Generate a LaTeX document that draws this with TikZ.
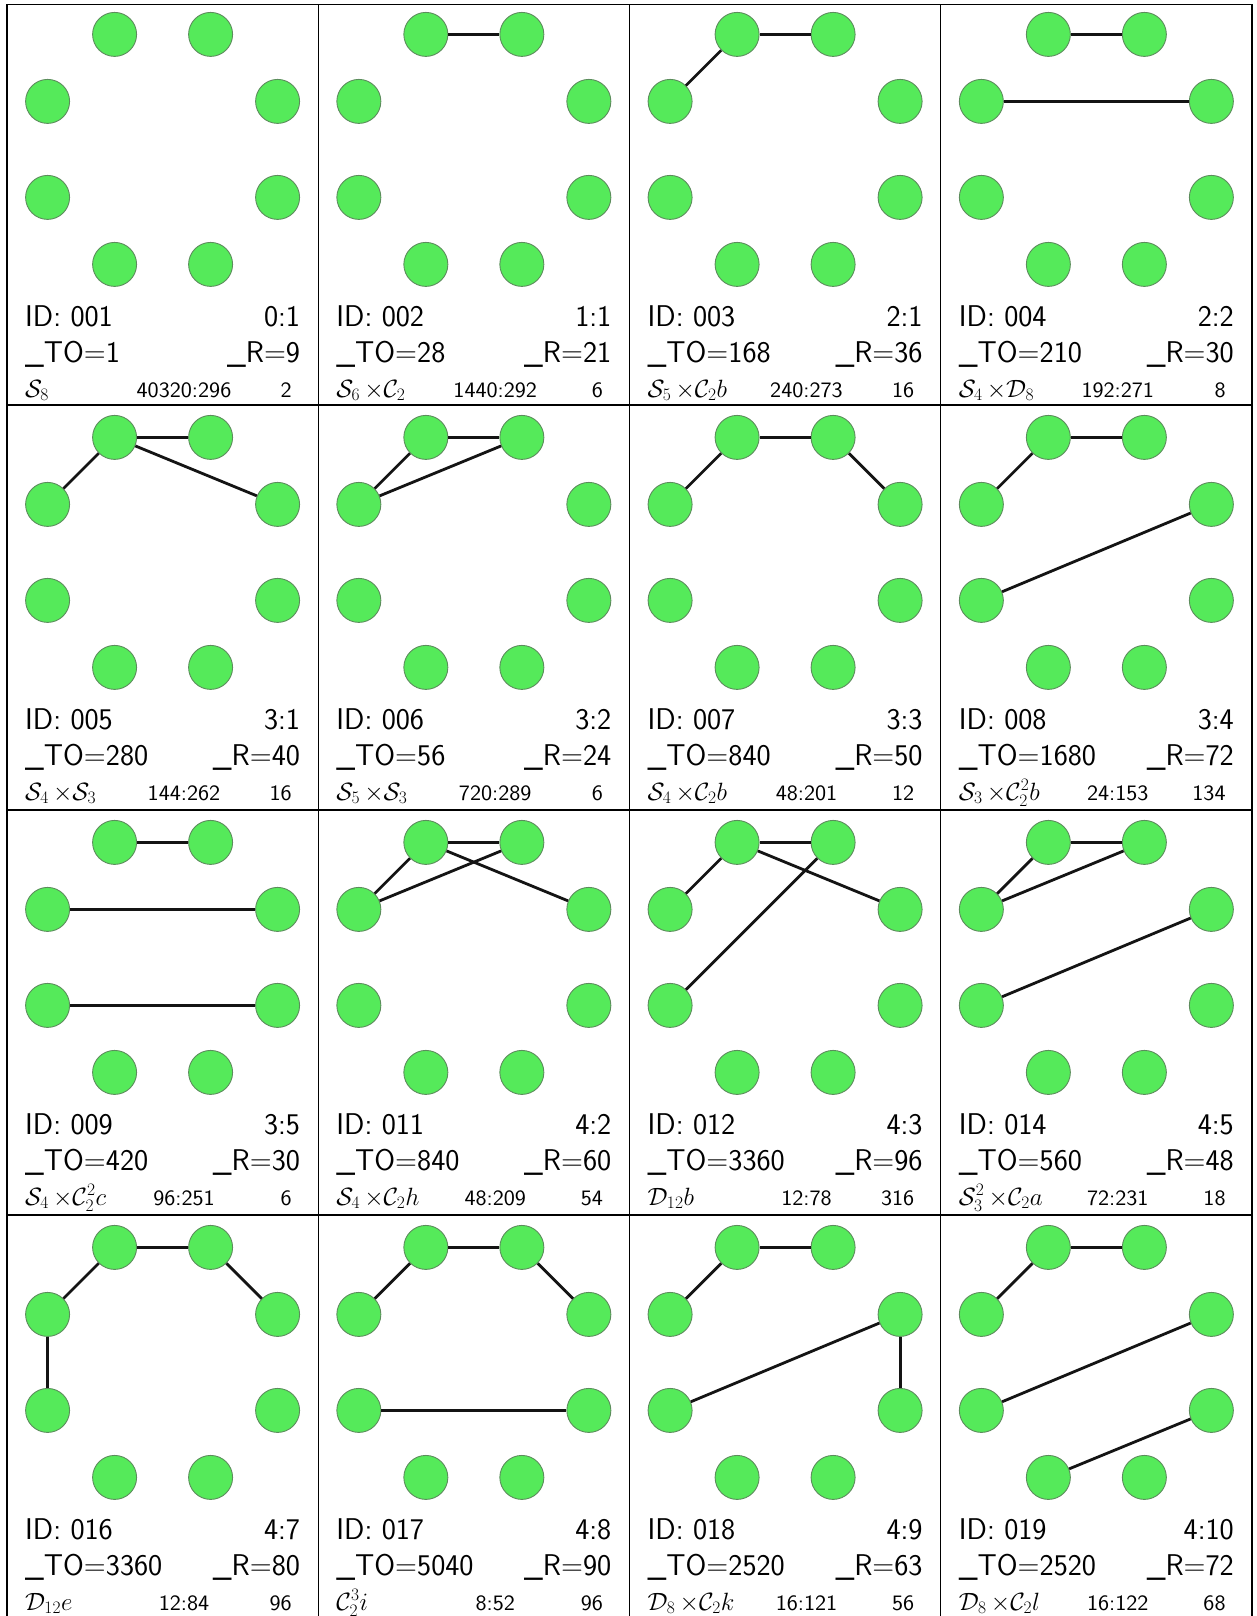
\documentclass[tikz,border=0pt]{standalone}
\usepackage{fix-cm}
\usepackage{amsmath}
\usepackage{fontspec}
\usepackage{xcolor}
\usepackage{tikz}
\usetikzlibrary{calc}
\definecolor{cVert}{HTML}{55EA5A}
\definecolor{cRim} {HTML}{5C8C5C}
\definecolor{cLink}{HTML}{141414}
\tikzset{
  vtx/.style={circle,draw=cRim,fill=cVert,line width=0.9pt,
              minimum size=44pt,inner sep=0pt},
  lnk/.style={line width=2.8pt,cLink},
  grd/.style={line width=1.4pt,black,line cap=rect},
  big/.style={inner sep=0pt,font=\sffamily\fontsize{30}{36}\selectfont},
  sml/.style={inner sep=0pt,font=\sffamily\fontsize{22}{26}\selectfont},
  grp/.style={inner sep=0pt,font=\fontsize{25}{28}\selectfont},
}
\newcommand{\widetx}[1]{\scalebox{1.07}[1]{#1}}
\newcommand{\tms}{\,{\times}}
% one cell: name, column, row
\newcommand{\gcell}[3]{%
  \coordinate (#1) at ({7+311.25*#2},{405*(#3+1)+2*(#3==0)});
  \foreach \p/\dx/\dy in {a/-48/-115,b/48/-115,c/115/-48,d/115/48,
                          e/48/115,f/-48/115,g/-115/48,h/-115/-48}
    \node[vtx] (#1\p) at ($(#1)+(155.6+\dx,-257.6+\dy)$) {};
}
% texts of a cell
\newcommand{\info}[8]{%
  \node[big,anchor=base west] (#1id) at ($(#1)+(18,-81)$) {ID: #2};
  \node[big,anchor=base east] (#1lv) at ($(#1)+(293.25,-81)$) {#3};
  \node[big,anchor=base west] (#1to) at ($(#1)+(18,-45)$) {\_TO=#4};
  \node[big,anchor=base east] (#1r)  at ($(#1)+(293.25,-45)$) {\_R=#5};
  \node[grp,anchor=base west] (#1gp) at ($(#1)+(18,-10)$) {#6};
  \node[sml,anchor=base] (#1or) at ($(#1)+(177,-10)$) {\widetx{#7}};
  \node[sml,anchor=base east] (#1n) at ($(#1)+(285,-10)$) {\widetx{#8}};
}

\begin{document}
\begin{tikzpicture}[x=1pt,y=-1pt]
  \useasboundingbox[fill=white] (0,0) rectangle (1256,1616);
  % table rules
  \foreach \gx in {7,318.25,629.5,940.75,1252}
    \draw[grd] (\gx,4.5) -- (\gx,1630);
  \foreach \gy in {4.5,405,810,1215}
    \draw[grd] (7,\gy) -- (1252,\gy);

  % row 1
  \gcell{t001}{0}{0}
  \info{t001}{001}{0:1}{1}{9}{$\mathcal{S}_8$}{40320:296}{2}
  \gcell{t002}{1}{0}
  \info{t002}{002}{1:1}{28}{21}{$\mathcal{S}_6\tms\mathcal{C}_2$}{1440:292}{6}
  \draw[lnk] (t002a)--(t002b);
  \gcell{t003}{2}{0}
  \info{t003}{003}{2:1}{168}{36}{$\mathcal{S}_5\tms\mathcal{C}_2b$}{240:273}{16}
  \draw[lnk] (t003a)--(t003b);
  \draw[lnk] (t003h)--(t003a);
  \gcell{t004}{3}{0}
  \info{t004}{004}{2:2}{210}{30}{$\mathcal{S}_4\tms\mathcal{D}_8$}{192:271}{8}
  \draw[lnk] (t004a)--(t004b);
  \draw[lnk] (t004h)--(t004c);

  % row 2
  \gcell{t005}{0}{1}
  \info{t005}{005}{3:1}{280}{40}{$\mathcal{S}_4\tms\mathcal{S}_3$}{144:262}{16}
  \draw[lnk] (t005a)--(t005b);
  \draw[lnk] (t005h)--(t005a);
  \draw[lnk] (t005a)--(t005c);
  \gcell{t006}{1}{1}
  \info{t006}{006}{3:2}{56}{24}{$\mathcal{S}_5\tms\mathcal{S}_3$}{720:289}{6}
  \draw[lnk] (t006a)--(t006b);
  \draw[lnk] (t006h)--(t006a);
  \draw[lnk] (t006h)--(t006b);
  \gcell{t007}{2}{1}
  \info{t007}{007}{3:3}{840}{50}{$\mathcal{S}_4\tms\mathcal{C}_2b$}{48:201}{12}
  \draw[lnk] (t007a)--(t007b);
  \draw[lnk] (t007h)--(t007a);
  \draw[lnk] (t007b)--(t007c);
  \gcell{t008}{3}{1}
  \info{t008}{008}{3:4}{1680}{72}{$\mathcal{S}_3\tms\mathcal{C}_2^2b$}{24:153}{134}
  \draw[lnk] (t008a)--(t008b);
  \draw[lnk] (t008h)--(t008a);
  \draw[lnk] (t008g)--(t008c);

  % row 3
  \gcell{t009}{0}{2}
  \info{t009}{009}{3:5}{420}{30}{$\mathcal{S}_4\tms\mathcal{C}_2^2c$}{96:251}{6}
  \draw[lnk] (t009a)--(t009b);
  \draw[lnk] (t009h)--(t009c);
  \draw[lnk] (t009g)--(t009d);
  \gcell{t011}{1}{2}
  \info{t011}{011}{4:2}{840}{60}{$\mathcal{S}_4\tms\mathcal{C}_2h$}{48:209}{54}
  \draw[lnk] (t011a)--(t011b);
  \draw[lnk] (t011h)--(t011a);
  \draw[lnk] (t011h)--(t011b);
  \draw[lnk] (t011a)--(t011c);
  \gcell{t012}{2}{2}
  \info{t012}{012}{4:3}{3360}{96}{$\mathcal{D}_{12}b$}{12:78}{316}
  \draw[lnk] (t012a)--(t012b);
  \draw[lnk] (t012h)--(t012a);
  \draw[lnk] (t012a)--(t012c);
  \draw[lnk] (t012g)--(t012b);
  \gcell{t014}{3}{2}
  \info{t014}{014}{4:5}{560}{48}{$\mathcal{S}_3^2\tms\mathcal{C}_2a$}{72:231}{18}
  \draw[lnk] (t014a)--(t014b);
  \draw[lnk] (t014h)--(t014a);
  \draw[lnk] (t014h)--(t014b);
  \draw[lnk] (t014g)--(t014c);

  % row 4
  \gcell{t016}{0}{3}
  \info{t016}{016}{4:7}{3360}{80}{$\mathcal{D}_{12}e$}{12:84}{96}
  \draw[lnk] (t016a)--(t016b);
  \draw[lnk] (t016h)--(t016a);
  \draw[lnk] (t016b)--(t016c);
  \draw[lnk] (t016h)--(t016g);
  \gcell{t017}{1}{3}
  \info{t017}{017}{4:8}{5040}{90}{$\mathcal{C}_2^3i$}{8:52}{96}
  \draw[lnk] (t017a)--(t017b);
  \draw[lnk] (t017h)--(t017a);
  \draw[lnk] (t017b)--(t017c);
  \draw[lnk] (t017g)--(t017d);
  \gcell{t018}{2}{3}
  \info{t018}{018}{4:9}{2520}{63}{$\mathcal{D}_8\tms\mathcal{C}_2k$}{16:121}{56}
  \draw[lnk] (t018a)--(t018b);
  \draw[lnk] (t018h)--(t018a);
  \draw[lnk] (t018g)--(t018c);
  \draw[lnk] (t018c)--(t018d);
  \gcell{t019}{3}{3}
  \info{t019}{019}{4:10}{2520}{72}{$\mathcal{D}_8\tms\mathcal{C}_2l$}{16:122}{68}
  \draw[lnk] (t019a)--(t019b);
  \draw[lnk] (t019h)--(t019a);
  \draw[lnk] (t019g)--(t019c);
  \draw[lnk] (t019f)--(t019d);
\end{tikzpicture}
\end{document}
